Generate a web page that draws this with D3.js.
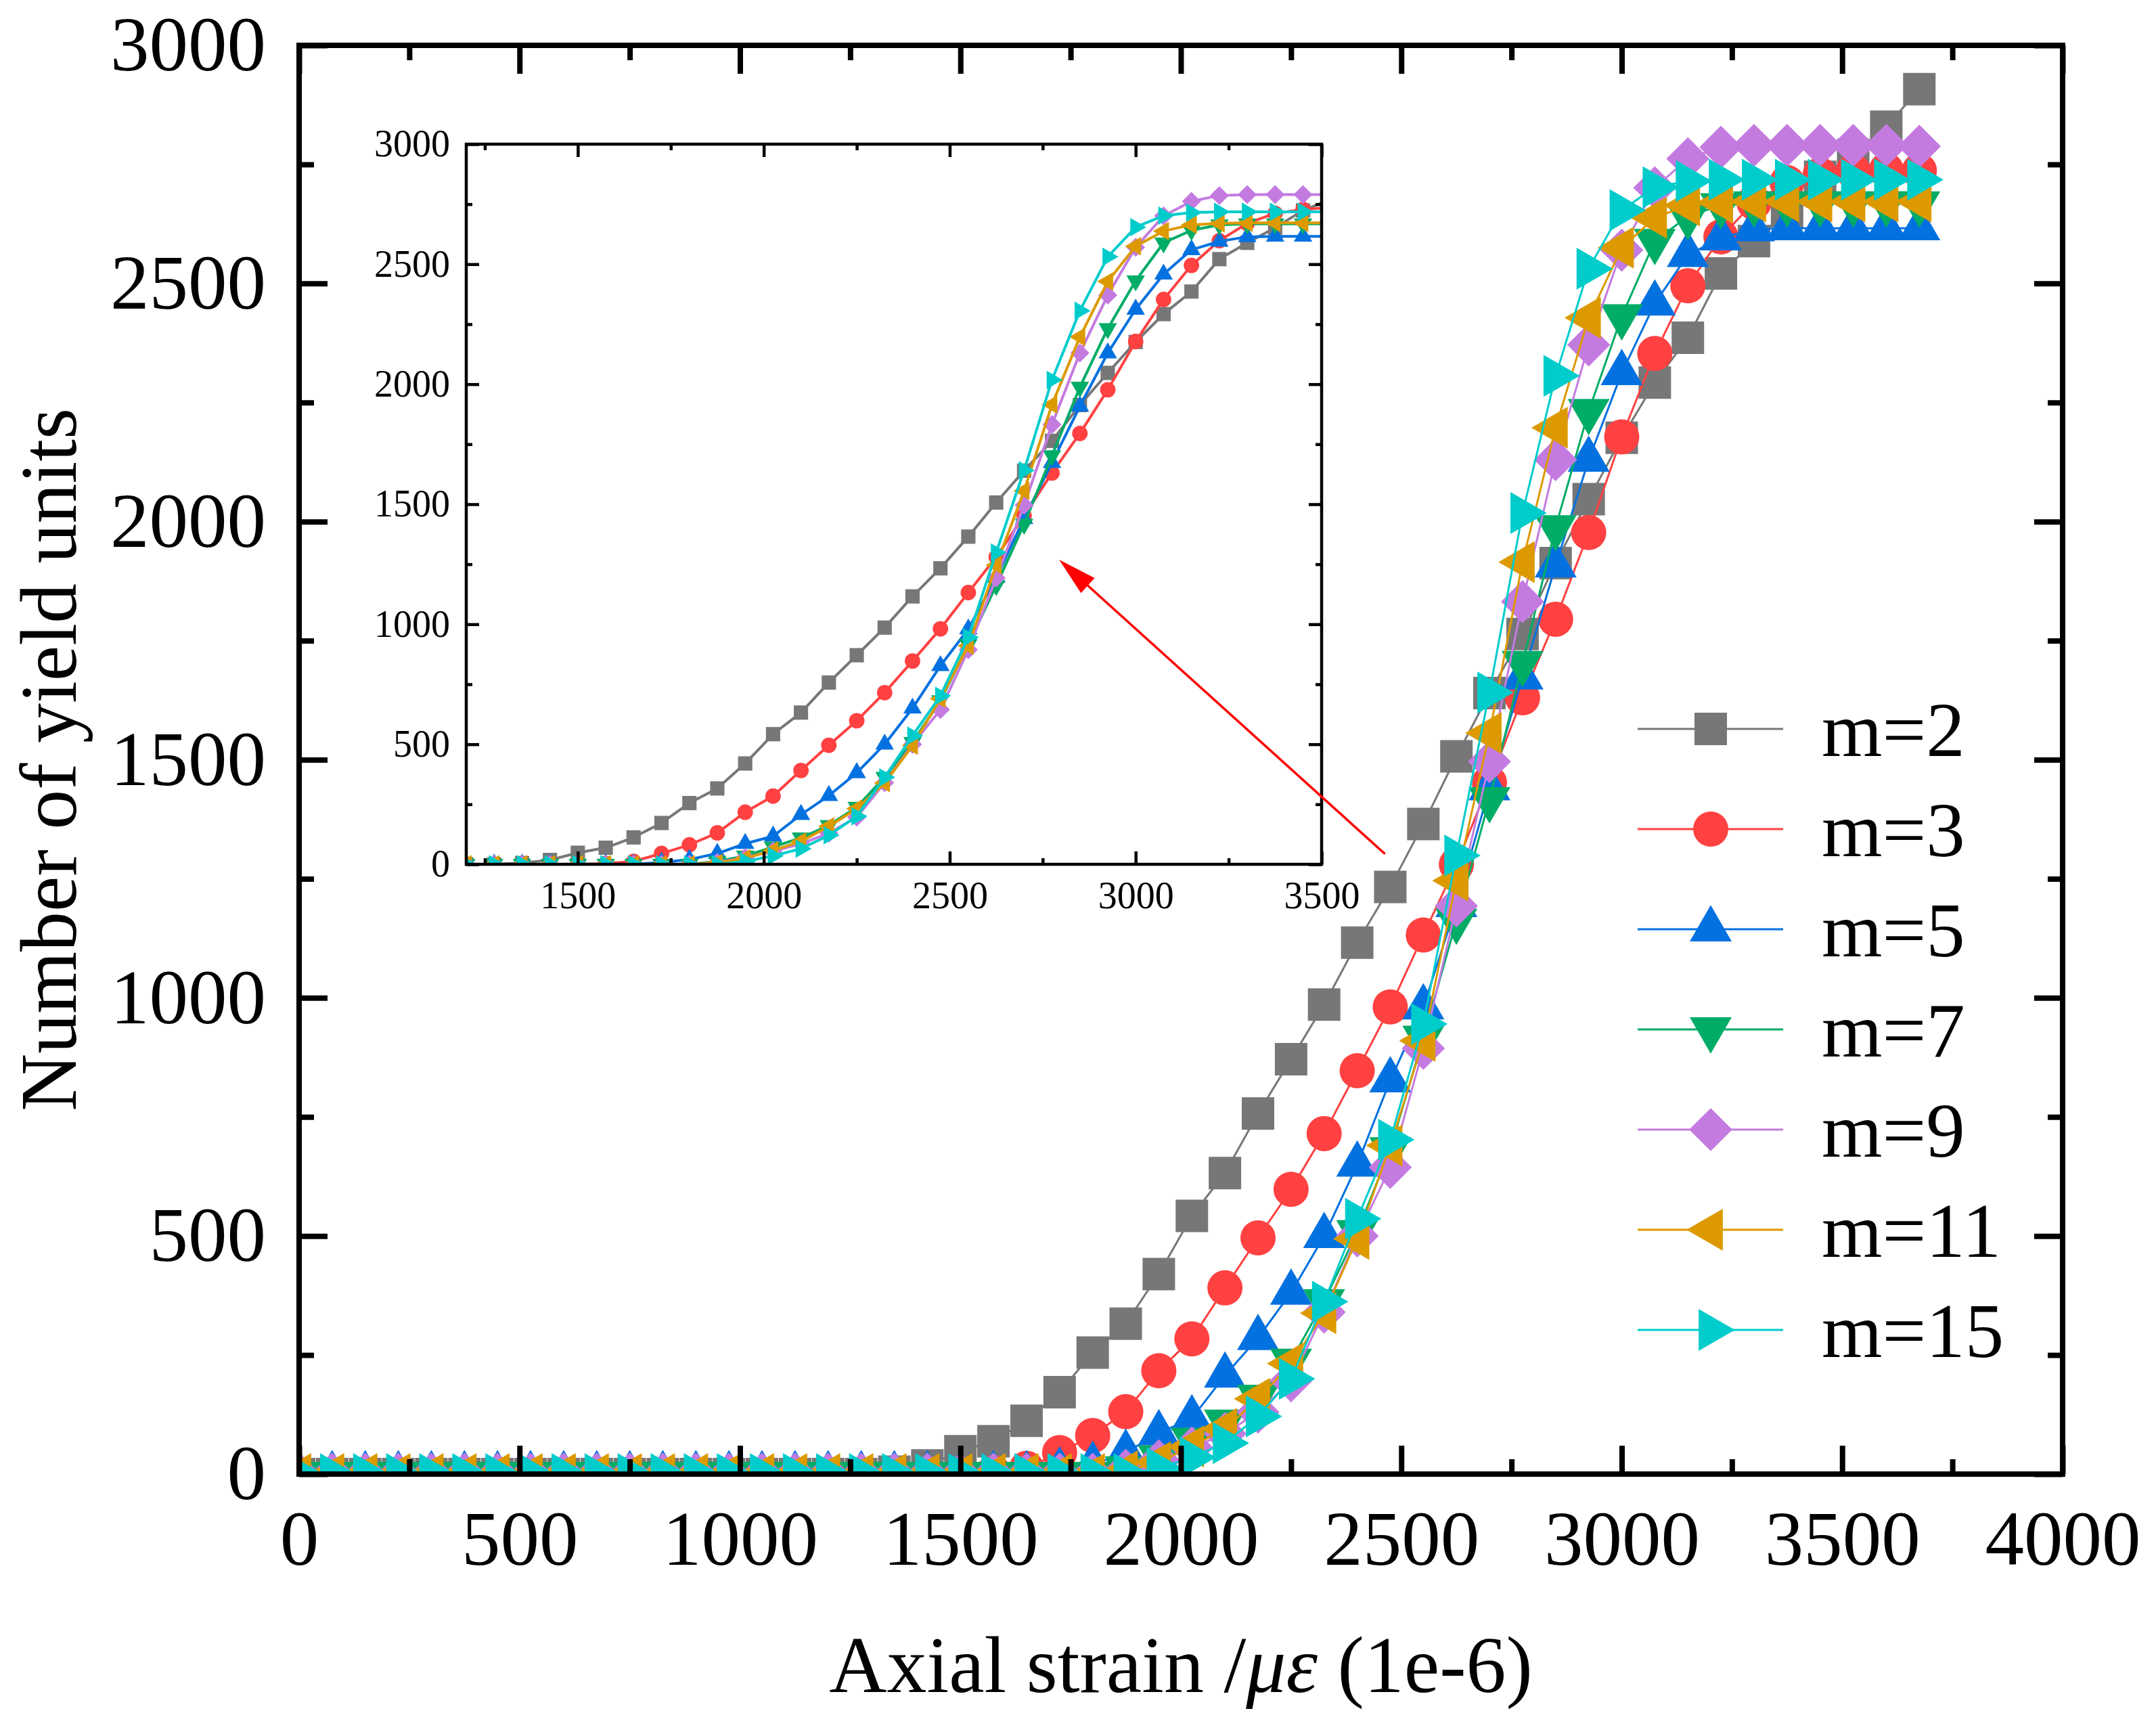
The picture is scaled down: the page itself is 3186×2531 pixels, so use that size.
<!DOCTYPE html>
<html>
<head>
<meta charset="utf-8">
<script src="https://cdn.jsdelivr.net/npm/d3@7"></script>
<style>
  body { margin: 0; background: #fff; }
  svg { display: block; }
  text { font-family: "Liberation Serif", "Times New Roman", serif; fill: #000; }
</style>
</head>
<body>
<svg id="chart" width="3186" height="2531"></svg>
<script>
// axial strain (x), shared by every series
const strain = [0,75,150,225,300,375,450,525,600,675,750,825,900,975,1050,1125,1200,1275,1350,1425,
  1500,1575,1650,1725,1800,1875,1950,2025,2100,2175,2250,2325,2400,2475,2550,2625,2700,2775,2850,2925,
  3000,3075,3150,3225,3300,3375,3450,3525,3600,3675];

// number of yield units per series
const m2 = [0,0,0,0,0,0,0,0,0,0,0,0,0,0,0,0,0,0,5,18,
  48,69,112,172,255,316,420,542,632,757,871,986,1116,1233,1365,1507,1640,1764,1913,2047,
  2176,2292,2386,2521,2589,2652,2724,2770,2829,2908];
const m3 = [0,0,0,0,0,0,0,0,0,0,0,0,0,0,0,0,0,0,0,0,
  0,3,12,45,81,131,217,284,391,496,598,715,847,981,1132,1280,1452,1630,1795,1977,
  2178,2353,2495,2598,2670,2712,2728,2736,2738,2737];
const m5 = [0,0,0,0,0,0,0,0,0,0,0,0,0,0,0,0,0,0,0,0,
  0,0,0,8,20,45,86,117,207,286,381,500,650,827,980,1195,1440,1673,1908,2130,
  2312,2458,2560,2595,2614,2616,2616,2616,2616,2616];
const m7 = [0,0,0,0,0,0,0,0,0,0,0,0,0,0,0,0,0,0,0,0,
  0,0,0,0,0,12,35,72,110,162,238,363,508,682,916,1162,1417,1703,1988,2232,
  2431,2589,2641,2664,2668,2668,2668,2668,2668,2668];
const m9 = [0,0,0,0,0,0,0,0,0,0,0,0,0,0,0,0,0,0,0,0,
  0,0,0,0,0,8,28,55,85,130,196,340,500,644,894,1193,1496,1832,2130,2371,
  2570,2701,2762,2786,2790,2790,2790,2790,2790,2788];
const m11 = [0,0,0,0,0,0,0,0,0,0,0,0,0,0,0,0,0,0,0,0,
  0,0,0,0,0,6,25,58,95,158,232,338,494,690,910,1246,1556,1915,2197,2428,
  2575,2638,2664,2670,2672,2672,2672,2672,2672,2672];
const m15 = [0,0,0,0,0,0,0,0,0,0,0,0,0,0,0,0,0,0,0,0,
  0,0,0,0,0,0,12,35,65,121,200,362,536,702,945,1299,1641,2018,2306,2531,
  2654,2702,2715,2718,2718,2718,2718,2718,2718,2718];

const seriesLabels = ["m=2", "m=3", "m=5", "m=7", "m=9", "m=11", "m=15"];
const seriesValues = [m2, m3, m5, m7, m9, m11, m15];
const seriesColors = ["#777777", "#FF4141", "#0471E0", "#00AC66", "#C47BE0", "#DC9A00", "#00CCCC"];
const seriesShapes = ["square", "circle", "up", "down", "diamond", "left", "right"];

// tick values
const mainXMajor = [0,500,1000,1500,2000,2500,3000,3500,4000];
const mainXMinor = [250,750,1250,1750,2250,2750,3250,3750];
const mainYMajor = [0,500,1000,1500,2000,2500,3000];
const mainYMinor = [250,750,1250,1750,2250,2750];
const insetXMajor = [1500,2000,2500,3000,3500];
const insetXMinor = [1250,1750,2250,2750,3250];
const insetYMajor = [0,500,1000,1500,2000,2500,3000];
const insetYMinor = [250,750,1250,1750,2250,2750];

// arrow annotation, in main-plot data units (from -> to)
const arrowFrom = [2463, 1302];
const arrowTo = [1724, 1920];

const svg = d3.select("#chart");
const FONT = "Liberation Serif, Times New Roman, serif";

const xMain = d3.scaleLinear().domain([0, 4000]).range([442, 3048]);
const yMain = d3.scaleLinear().domain([0, 3000]).range([2178, 67]);
const xIns = d3.scaleLinear().domain([1200, 3500]).range([689, 1953]);
const yIns = d3.scaleLinear().domain([0, 3000]).range([1277, 213]);

const shapeDefs = {
  square:  { type: d3.symbolSquare,   size: 2304, rot: 0 },
  circle:  { type: d3.symbolCircle,   size: 2124, rot: 0 },
  up:      { type: d3.symbolTriangle, size: 1665, rot: 0 },
  down:    { type: d3.symbolTriangle, size: 1665, rot: 180 },
  diamond: { type: d3.symbolSquare,   size: 2025, rot: 45 },
  left:    { type: d3.symbolTriangle, size: 1665, rot: -90 },
  right:   { type: d3.symbolTriangle, size: 1665, rot: 90 }
};

function markerPath(shape, k) {
  const s = shapeDefs[shape];
  return d3.symbol().type(s.type).size(s.size * k * k)();
}

function drawSeries(g, x, y, k, lineW, minX) {
  seriesValues.forEach((vals, i) => {
    const pts = strain.map((s, j) => [s, vals[j]]).filter(p => p[0] >= minX);
    const sg = g.append("g");
    sg.append("path")
      .attr("d", d3.line().x(d => x(d[0])).y(d => y(d[1]))(pts))
      .attr("fill", "none")
      .attr("stroke", seriesColors[i])
      .attr("stroke-width", lineW)
      .attr("stroke-linejoin", "round");
    const shp = seriesShapes[i];
    sg.selectAll("path.mk")
      .data(pts)
      .enter()
      .append("path")
      .attr("class", "mk")
      .attr("d", markerPath(shp, k))
      .attr("transform", d => `translate(${x(d[0])},${y(d[1])}) rotate(${shapeDefs[shp].rot})`)
      .attr("fill", seriesColors[i]);
  });
}

function drawAxes(g, x, y, o) {
  const [x0, x1] = x.range();
  const [y0, y1] = y.range();

  function style(sel, withText) {
    sel.select(".domain").remove();
    sel.attr("font-family", FONT).attr("font-size", o.fontSize);
    sel.selectAll("line").attr("stroke", "#000").attr("stroke-width", o.width);
    if (!withText) sel.selectAll("text").remove();
  }

  g.append("g").attr("transform", `translate(0,${y0})`)
    .call(d3.axisBottom(x).tickValues(o.xMajor).tickSize(-o.major).tickPadding(o.xPad).tickFormat(d3.format("d")))
    .call(s => style(s, true));
  g.append("g").attr("transform", `translate(0,${y0})`)
    .call(d3.axisBottom(x).tickValues(o.xMinor).tickSize(-o.minor))
    .call(s => style(s, false));
  g.append("g").attr("transform", `translate(0,${y1})`)
    .call(d3.axisTop(x).tickValues(o.xMajor).tickSize(-o.major))
    .call(s => style(s, false));
  g.append("g").attr("transform", `translate(0,${y1})`)
    .call(d3.axisTop(x).tickValues(o.xMinor).tickSize(-o.minor))
    .call(s => style(s, false));

  g.append("g").attr("transform", `translate(${x0},0)`)
    .call(d3.axisLeft(y).tickValues(o.yMajor).tickSize(-o.major).tickPadding(o.yPad).tickFormat(d3.format("d")))
    .call(s => style(s, true));
  g.append("g").attr("transform", `translate(${x0},0)`)
    .call(d3.axisLeft(y).tickValues(o.yMinor).tickSize(-o.minor))
    .call(s => style(s, false));
  g.append("g").attr("transform", `translate(${x1},0)`)
    .call(d3.axisRight(y).tickValues(o.yMajor).tickSize(-o.major))
    .call(s => style(s, false));
  g.append("g").attr("transform", `translate(${x1},0)`)
    .call(d3.axisRight(y).tickValues(o.yMinor).tickSize(-o.minor))
    .call(s => style(s, false));

  g.append("rect")
    .attr("x", x0).attr("y", y1)
    .attr("width", x1 - x0).attr("height", y0 - y1)
    .attr("fill", "none")
    .attr("stroke", "#000")
    .attr("stroke-width", o.width);
}

// clip paths
const defs = svg.append("defs");
defs.append("clipPath").attr("id", "clipMain").append("rect")
  .attr("x", xMain.range()[0]).attr("y", yMain.range()[1])
  .attr("width", xMain.range()[1] - xMain.range()[0])
  .attr("height", yMain.range()[0] - yMain.range()[1]);
defs.append("clipPath").attr("id", "clipIns").append("rect")
  .attr("x", xIns.range()[0]).attr("y", yIns.range()[1])
  .attr("width", xIns.range()[1] - xIns.range()[0])
  .attr("height", yIns.range()[0] - yIns.range()[1]);

// main plot
const mainData = svg.append("g").attr("clip-path", "url(#clipMain)");
drawSeries(mainData, xMain, yMain, 1, 3, 0);
drawAxes(svg.append("g"), xMain, yMain, {
  major: 42, minor: 22, width: 8, fontSize: 115,
  xMajor: mainXMajor, xMinor: mainXMinor, yMajor: mainYMajor, yMinor: mainYMinor,
  xPad: 52, yPad: 49
});

// inset
svg.append("rect")
  .attr("x", xIns.range()[0]).attr("y", yIns.range()[1])
  .attr("width", xIns.range()[1] - xIns.range()[0])
  .attr("height", yIns.range()[0] - yIns.range()[1])
  .attr("fill", "#fff");
const insData = svg.append("g").attr("clip-path", "url(#clipIns)");
drawSeries(insData, xIns, yIns, 0.44, 4, 1200);
drawAxes(svg.append("g"), xIns, yIns, {
  major: 19, minor: 9, width: 4.5, fontSize: 56,
  xMajor: insetXMajor, xMinor: insetXMinor, yMajor: insetYMajor, yMinor: insetYMinor,
  xPad: 25, yPad: 24
});

// axis titles
svg.append("text")
  .attr("transform", `translate(112,${(yMain.range()[0] + yMain.range()[1]) / 2}) rotate(-90)`)
  .attr("text-anchor", "middle")
  .attr("font-size", 118)
  .text("Number of yield units");

const xTitle = svg.append("text")
  .attr("x", (xMain.range()[0] + xMain.range()[1]) / 2)
  .attr("y", 2500)
  .attr("text-anchor", "middle")
  .attr("font-size", 118);
xTitle.append("tspan").text("Axial strain /");
xTitle.append("tspan").attr("font-style", "italic").text("με");
xTitle.append("tspan").text(" (1e-6)");

// legend
const legend = svg.append("g");
seriesLabels.forEach((lab, i) => {
  const cy = 1077 + i * 148;
  const row = legend.append("g");
  row.append("line")
    .attr("x1", 2420).attr("x2", 2635)
    .attr("y1", cy).attr("y2", cy)
    .attr("stroke", seriesColors[i])
    .attr("stroke-width", 3);
  row.append("path")
    .attr("d", markerPath(seriesShapes[i], 1))
    .attr("transform", `translate(2528,${cy}) rotate(${shapeDefs[seriesShapes[i]].rot})`)
    .attr("fill", seriesColors[i]);
  row.append("text")
    .attr("x", 2692).attr("y", cy + 40)
    .attr("font-size", 115)
    .text(lab);
});

// arrow pointing into the inset
const ax0 = xMain(arrowFrom[0]), ay0 = yMain(arrowFrom[1]);
const ax1 = xMain(arrowTo[0]), ay1 = yMain(arrowTo[1]);
const len = Math.hypot(ax1 - ax0, ay1 - ay0);
const ux = (ax1 - ax0) / len, uy = (ay1 - ay0) / len;
const headL = 57, headW = 15;
const bx = ax1 - ux * headL, by = ay1 - uy * headL;
svg.append("line")
  .attr("x1", ax0).attr("y1", ay0)
  .attr("x2", bx + ux * 4).attr("y2", by + uy * 4)
  .attr("stroke", "#FF0000")
  .attr("stroke-width", 3.5);
svg.append("path")
  .attr("d", `M${ax1},${ay1}L${bx - uy * headW},${by + ux * headW}L${bx + uy * headW},${by - ux * headW}Z`)
  .attr("fill", "#FF0000");
</script>
</body>
</html>
